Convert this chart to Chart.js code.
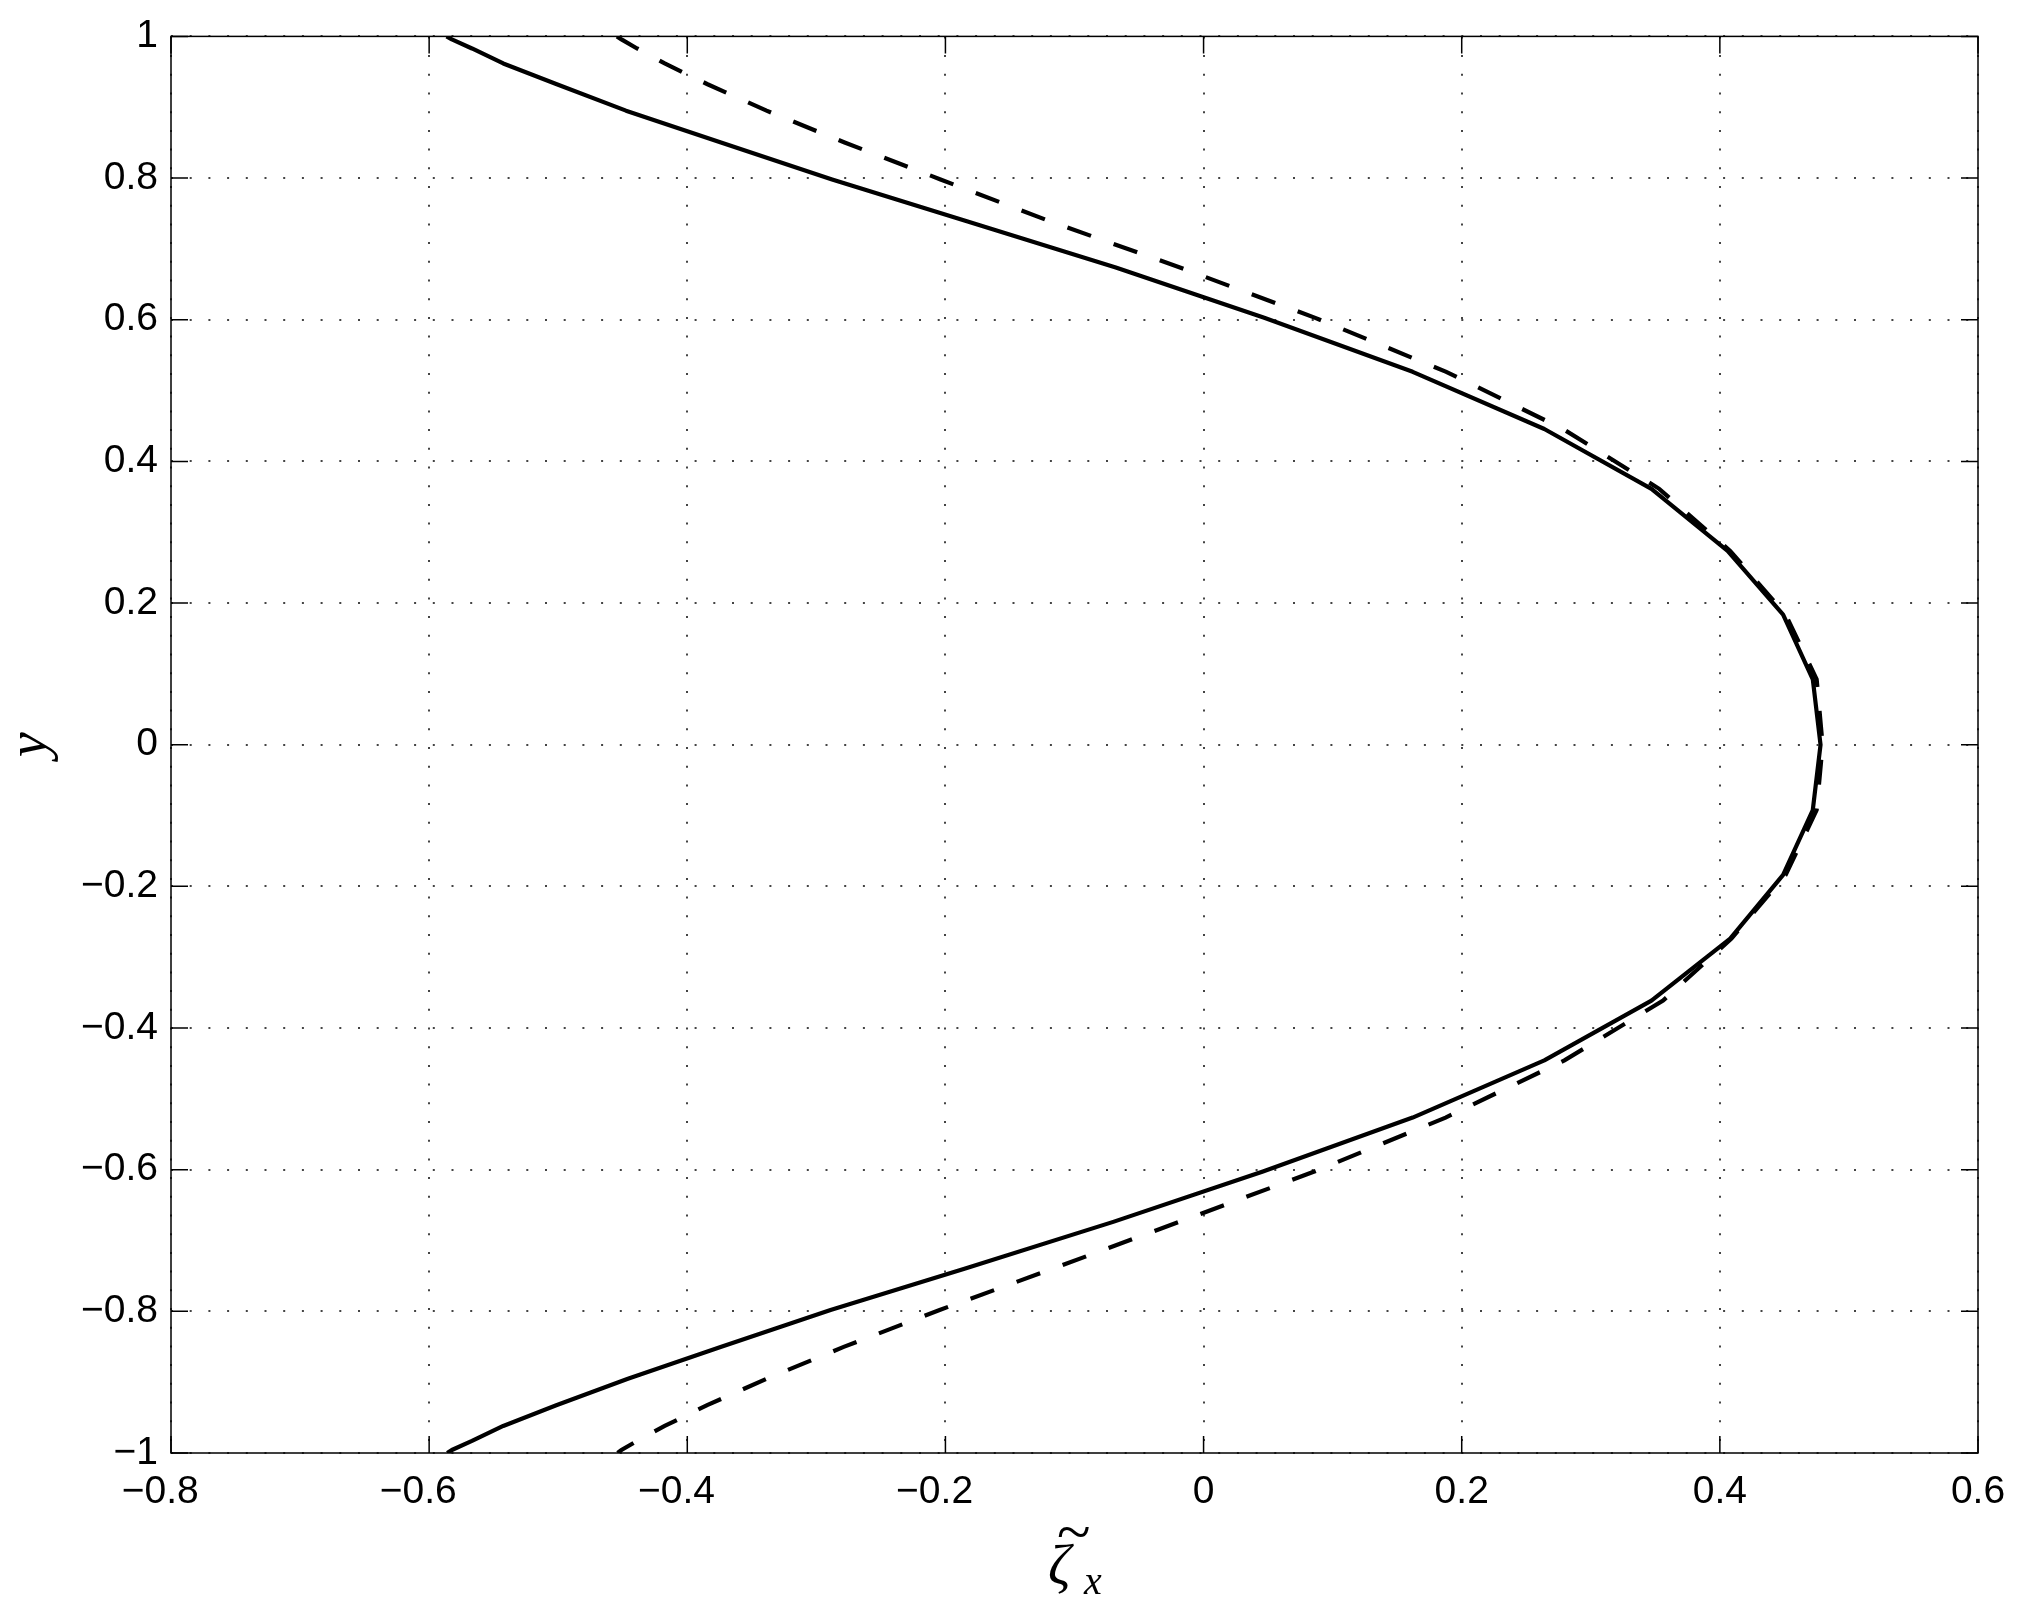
<!doctype html>
<html lang="en">

<head>
    <meta charset="utf-8">
    <title>zeta_x profile</title>
    <style>
        body { margin: 0; background: #fff; }
    </style>
</head>

<body>
    <canvas id="myChart" width="2028" height="1616"></canvas>

    <script src="https://cdn.jsdelivr.net/npm/chart.js"></script>
    <script>

        // wall-normal positions (one value per point, top to bottom)
        const yPts = [1, 0.99573, 0.98297, 0.96183, 0.93247, 0.89516, 0.85022, 0.79802, 0.73901, 0.67370,
            0.60263, 0.52643, 0.44573, 0.36124, 0.27366, 0.18375, 0.09227, 0,
            -0.09227, -0.18375, -0.27366, -0.36124, -0.44573, -0.52643, -0.60263, -0.67370,
            -0.73901, -0.79802, -0.85022, -0.89516, -0.93247, -0.96183, -0.98297, -0.99573, -1];

        // solid curve
        const solidX = [-0.5865, -0.5824, -0.5668, -0.5426, -0.5011, -0.4475, -0.3739, -0.2878, -0.1834, -0.068,
            0.047, 0.162, 0.264, 0.347, 0.406, 0.449, 0.472, 0.478,
            0.472, 0.449, 0.408, 0.347, 0.264, 0.162, 0.046, -0.070,
            -0.1840, -0.2890, -0.3742, -0.4460, -0.5015, -0.5426, -0.5668, -0.5824, -0.5860];

        // dashed curve
        const dashedX = [-0.4545, -0.451, -0.4389, -0.4175, -0.3843, -0.3386, -0.2781, -0.2038, -0.1191, -0.0183,
            0.0865, 0.188, 0.2785, 0.353, 0.408, 0.451, 0.475, 0.4796,
            0.475, 0.451, 0.409, 0.356, 0.2796, 0.1875, 0.0858, -0.019,
            -0.1156, -0.2045, -0.2788, -0.3386, -0.3846, -0.4175, -0.4389, -0.451, -0.454];

        // ticks
        const xTicks = [-0.8, -0.6, -0.4, -0.2, 0, 0.2, 0.4, 0.6];
        const xTickLabels = ['\u22120.8\u2007', '\u22120.6\u2007', '\u22120.4\u2007', '\u22120.2\u2007', '0', '0.2', '0.4', '0.6'];
        const yTicks = [-1, -0.8, -0.6, -0.4, -0.2, 0, 0.2, 0.4, 0.6, 0.8, 1];
        const yTickLabels = ['\u22121', '\u22120.8', '\u22120.6', '\u22120.4', '\u22120.2', '0', '0.2', '0.4', '0.6', '0.8', '1'];

        const tickFont = { family: "'Liberation Sans', Arial, sans-serif", size: 39 };

        const whiteBg = {
            id: 'whiteBg',
            beforeDraw: (chart) => {
                const ctx = chart.ctx;
                ctx.save();
                ctx.fillStyle = '#fff';
                ctx.fillRect(0, 0, chart.width, chart.height);
                ctx.restore();
            }
        };

        // box round the axes with inward tick marks, matlab style
        const boxTicks = {
            id: 'boxTicks',
            afterDatasetsDraw: (chart) => {
                const ctx = chart.ctx;
                const a = chart.chartArea;
                const xs = chart.scales.x, ys = chart.scales.y;
                const len = 17;
                ctx.save();
                ctx.strokeStyle = '#000';
                ctx.lineWidth = 1.5;
                ctx.setLineDash([]);
                ctx.strokeRect(a.left, a.top, a.right - a.left, a.bottom - a.top);
                ctx.beginPath();
                xTicks.forEach(v => {
                    const px = xs.getPixelForValue(v);
                    ctx.moveTo(px, a.bottom); ctx.lineTo(px, a.bottom - len);
                    ctx.moveTo(px, a.top); ctx.lineTo(px, a.top + len);
                });
                yTicks.forEach(v => {
                    const py = ys.getPixelForValue(v);
                    ctx.moveTo(a.left, py); ctx.lineTo(a.left + len, py);
                    ctx.moveTo(a.right, py); ctx.lineTo(a.right - len, py);
                });
                ctx.stroke();
                ctx.restore();
            }
        };

        // draw text so that its ink box starts at (left, top)
        function inkText(ctx, txt, left, top) {
            const m = ctx.measureText(txt);
            ctx.fillText(txt, left + m.actualBoundingBoxLeft, top + m.actualBoundingBoxAscent);
        }

        // axis titles: zeta tilde sub x, and y
        const axisTitles = {
            id: 'axisTitles',
            afterDraw: (chart) => {
                const ctx = chart.ctx;
                const a = chart.chartArea;
                ctx.save();
                ctx.fillStyle = '#000';
                ctx.textBaseline = 'alphabetic';
                ctx.textAlign = 'left';
                ctx.font = "italic 56px 'Liberation Serif', serif";
                inkText(ctx, '\u03b6', 1049, 1543);
                ctx.font = "italic 40px 'Liberation Serif', serif";
                inkText(ctx, 'x', 1083, 1575);
                ctx.font = "62px 'Liberation Serif', serif";
                inkText(ctx, '~', 1058, 1526);

                ctx.translate(46, (a.top + a.bottom) / 2);
                ctx.rotate(-Math.PI / 2);
                ctx.textAlign = 'center';
                ctx.font = "italic 56px 'Liberation Serif', serif";
                ctx.fillText('y', 0, 0);
                ctx.restore();
            }
        };

        const data = {
            datasets: [{
                label: 'solid',
                data: yPts.map((y, i) => ({ x: solidX[i], y: y })),
                borderColor: '#000',
                borderWidth: 4.2,
                borderCapStyle: 'butt',
                borderJoinStyle: 'round',
                showLine: true,
                pointRadius: 0,
                tension: 0
            }, {
                label: 'dashed',
                data: yPts.map((y, i) => ({ x: dashedX[i], y: y })),
                borderColor: '#000',
                borderWidth: 4.2,
                borderDash: [25, 24],
                borderCapStyle: 'butt',
                showLine: true,
                pointRadius: 0,
                tension: 0
            }]
        };

        const config = {
            type: 'scatter',
            data,
            plugins: [whiteBg, boxTicks, axisTitles],
            options: {
                responsive: false,
                devicePixelRatio: 1,
                animation: false,
                layout: { padding: { top: 30, right: 50, left: 0, bottom: 0 } },
                plugins: {
                    legend: { display: false },
                    tooltip: { enabled: false }
                },
                scales: {
                    x: {
                        type: 'linear',
                        min: -0.8,
                        max: 0.6,
                        afterBuildTicks: (s) => { s.ticks = xTicks.map(v => ({ value: v })); },
                        afterFit: (s) => { s.height = 163; },
                        ticks: {
                            font: tickFont,
                            color: '#000',
                            padding: 16,
                            maxRotation: 0,
                            autoSkip: false,
                            callback: (value, index) => xTickLabels[index]
                        },
                        grid: { color: '#444', lineWidth: 2, drawTicks: false },
                        border: { display: false, dash: [2, 16.7] }
                    },
                    y: {
                        type: 'linear',
                        min: -1,
                        max: 1,
                        afterBuildTicks: (s) => { s.ticks = yTicks.map(v => ({ value: v })); },
                        afterFit: (s) => { s.width = 171; },
                        ticks: {
                            font: tickFont,
                            color: '#000',
                            padding: 13,
                            autoSkip: false,
                            callback: (value, index) => yTickLabels[index]
                        },
                        grid: { color: '#444', lineWidth: 2, drawTicks: false },
                        border: { display: false, dash: [2, 16.7] }
                    }
                }
            }
        };

        const myChart = new Chart(document.getElementById('myChart'), config);
    </script>
</body>

</html>
